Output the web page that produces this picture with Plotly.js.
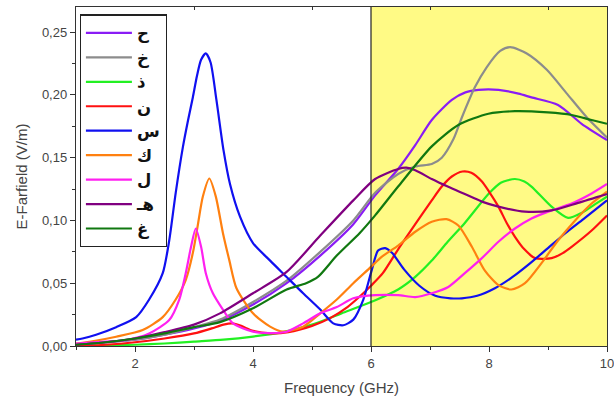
<!DOCTYPE html>
<html>
<head>
<meta charset="utf-8">
<script src="https://cdn.plot.ly/plotly-3.0.1.min.js"></script>
<style>html,body{margin:0;padding:0;background:#fff;}#chart{width:614px;height:410px;}</style>
</head>
<body>
<div id="chart"></div>
<script>
// Series labels (legend)
const names = ["ح", "خ", "ذ", "ن", "س", "ك", "ل", "هـ", "غ"];
const colors = ["#8A1CF5", "#8C8C8C", "#22F022", "#FF1010", "#1010F0", "#FF8010", "#FF20F0", "#800080", "#107810"];

// ح (violet)
const xViolet = [1, 1.5, 2, 2.5, 3, 3.44, 4.0, 4.57, 5.14, 5.7, 6.07, 6.46, 6.75, 7.03, 7.37, 7.6, 7.82, 8.16, 8.5, 8.72, 9.17, 9.57, 10];
const yViolet = [0.001, 0.003, 0.005, 0.009, 0.014, 0.020, 0.033, 0.050, 0.072, 0.097, 0.120, 0.141, 0.160, 0.180, 0.196, 0.202, 0.204, 0.204, 0.201, 0.198, 0.192, 0.177, 0.164];

// خ (gray)
const xGray = [1, 1.5, 2, 2.5, 3, 3.44, 4.0, 4.57, 5.14, 5.7, 6.07, 6.46, 6.75, 7.03, 7.2, 7.4, 7.54, 7.76, 7.96, 8.19, 8.36, 8.64, 8.98, 9.32, 9.66, 10];
const yGray = [0.001, 0.003, 0.005, 0.009, 0.015, 0.021, 0.035, 0.052, 0.075, 0.100, 0.122, 0.137, 0.143, 0.145, 0.150, 0.165, 0.182, 0.206, 0.222, 0.235, 0.238, 0.233, 0.220, 0.201, 0.182, 0.166];

// ذ (green)
const xGreen = [1, 1.5, 2, 2.5, 3, 3.5, 4.0, 4.5, 5.0, 5.5, 6.0, 6.46, 6.75, 7.03, 7.3, 7.59, 7.99, 8.2, 8.44, 8.6, 8.72, 9.06, 9.34, 9.57, 9.8, 10];
const yGreen = [0.000, 0.0005, 0.001, 0.002, 0.0035, 0.005, 0.0075, 0.011, 0.017, 0.026, 0.035, 0.045, 0.055, 0.068, 0.083, 0.098, 0.121, 0.130, 0.133, 0.131, 0.127, 0.111, 0.102, 0.106, 0.113, 0.119];

// ن (red)
const xRed = [1, 1.5, 2, 2.5, 3, 3.3, 3.5, 3.65, 3.8, 4.0, 4.3, 4.6, 5.0, 5.3, 5.6, 5.8, 6.0, 6.2, 6.46, 6.75, 7.03, 7.2, 7.37, 7.55, 7.7, 7.88, 8.0, 8.16, 8.3, 8.44, 8.6, 8.78, 9.06, 9.25, 9.4, 9.74, 10];
const yRed = [0.000, 0.001, 0.003, 0.006, 0.010, 0.014, 0.017, 0.018, 0.016, 0.012, 0.010, 0.011, 0.016, 0.022, 0.031, 0.039, 0.048, 0.058, 0.077, 0.097, 0.116, 0.127, 0.135, 0.139, 0.138, 0.131, 0.123, 0.111, 0.098, 0.087, 0.077, 0.070, 0.070, 0.074, 0.079, 0.092, 0.104];

// س (blue)
const xBlue = [1, 1.11, 1.34, 1.68, 2.02, 2.24, 2.47, 2.58, 2.69, 2.81, 2.9, 2.98, 3.05, 3.12, 3.2, 3.28, 3.38, 3.5, 3.61, 3.78, 4.0, 4.29, 4.57, 4.85, 5.14, 5.36, 5.53, 5.7, 5.87, 6.01, 6.12, 6.24, 6.36, 6.56, 6.82, 7.09, 7.35, 7.54, 7.8, 8.1, 8.4, 8.7, 9.0, 9.3, 9.6, 10];
const yBlue = [0.005, 0.006, 0.009, 0.015, 0.023, 0.037, 0.058, 0.084, 0.122, 0.158, 0.180, 0.198, 0.215, 0.228, 0.233, 0.226, 0.196, 0.156, 0.129, 0.103, 0.082, 0.068, 0.055, 0.042, 0.029, 0.018, 0.0165, 0.021, 0.037, 0.060, 0.076, 0.078, 0.074, 0.061, 0.048, 0.040, 0.038, 0.038, 0.040, 0.046, 0.055, 0.066, 0.078, 0.090, 0.101, 0.116];

// ك (orange)
const xOrange = [1, 1.23, 1.68, 2.13, 2.47, 2.69, 2.86, 2.98, 3.06, 3.15, 3.26, 3.37, 3.49, 3.6, 3.72, 4.0, 4.29, 4.51, 4.85, 5.14, 5.42, 5.7, 6.0, 6.18, 6.46, 6.75, 7.03, 7.28, 7.48, 7.71, 7.93, 8.16, 8.38, 8.61, 8.89, 9.17, 9.46, 9.74, 10];
const yOrange = [0.002, 0.0034, 0.0074, 0.0127, 0.023, 0.037, 0.0525, 0.074, 0.095, 0.119, 0.1334, 0.119, 0.090, 0.068, 0.046, 0.026, 0.0154, 0.0114, 0.0154, 0.026, 0.037, 0.050, 0.063, 0.071, 0.080, 0.091, 0.099, 0.101, 0.096, 0.079, 0.060, 0.0485, 0.045, 0.050, 0.066, 0.084, 0.100, 0.1135, 0.123];

// ل (magenta)
const xMagenta = [1, 1.28, 1.85, 2.24, 2.58, 2.75, 2.86, 2.95, 3.03, 3.12, 3.2, 3.32, 3.49, 3.66, 4.0, 4.29, 4.57, 4.85, 5.14, 5.42, 5.7, 6.07, 6.46, 6.75, 7.03, 7.31, 7.59, 7.88, 8.16, 8.44, 8.72, 9.06, 9.4, 9.74, 10];
const yMagenta = [0.002, 0.003, 0.0048, 0.010, 0.0207, 0.037, 0.058, 0.079, 0.0936, 0.079, 0.058, 0.042, 0.029, 0.018, 0.0114, 0.0103, 0.0114, 0.018, 0.026, 0.031, 0.038, 0.0405, 0.0405, 0.039, 0.042, 0.047, 0.058, 0.070, 0.083, 0.0936, 0.1016, 0.108, 0.1135, 0.1215, 0.129];

// هـ (purple)
const xPurple = [1, 1.5, 2, 2.5, 3, 3.44, 4.0, 4.57, 5.14, 5.7, 6.07, 6.46, 6.6, 6.75, 7.03, 7.3, 7.59, 7.88, 8.16, 8.61, 9.06, 9.51, 10];
const yPurple = [0.001, 0.003, 0.006, 0.011, 0.017, 0.026, 0.042, 0.059, 0.088, 0.116, 0.133, 0.141, 0.142, 0.140, 0.133, 0.127, 0.121, 0.115, 0.111, 0.107, 0.108, 0.114, 0.121];

// غ (dark green)
const xDkGreen = [1, 1.5, 2, 2.5, 3, 3.44, 4.0, 4.57, 4.9, 5.1, 5.42, 5.81, 6.07, 6.46, 7.03, 7.48, 7.99, 8.44, 9.0, 9.4, 9.74, 10];
const yDkGreen = [0.001, 0.003, 0.006, 0.010, 0.015, 0.019, 0.030, 0.045, 0.050, 0.055, 0.072, 0.090, 0.104, 0.127, 0.159, 0.176, 0.185, 0.187, 0.186, 0.184, 0.180, 0.177];

const xs = [xViolet, xGray, xGreen, xRed, xBlue, xOrange, xMagenta, xPurple, xDkGreen];
const ys = [yViolet, yGray, yGreen, yRed, yBlue, yOrange, yMagenta, yPurple, yDkGreen];

// Highlight band
const bandStart = 6, bandEnd = 10;

const traces = names.map((n, i) => ({
  x: xs[i], y: ys[i], name: n, type: 'scatter', mode: 'lines',
  line: {color: colors[i], width: 2.2, shape: 'spline', smoothing: 0.7}
}));
// helper trace so the top (mirror) axis with inward ticks is drawn
traces.push({x: [bandStart], y: [null], xaxis: 'x2', yaxis: 'y', type: 'scatter', mode: 'lines',
  showlegend: false, hoverinfo: 'skip'});

const layout = {
  width: 614, height: 410,
  margin: {l: 76, r: 7, t: 7, b: 64},
  paper_bgcolor: '#fff', plot_bgcolor: '#fff',
  separators: ',.',
  font: {family: 'Liberation Sans, Arial, sans-serif', color: '#444', size: 13},
  showlegend: true,
  legend: {
    x: 0.007, y: 0.978, xanchor: 'left', yanchor: 'top',
    bgcolor: '#fff', bordercolor: '#222', borderwidth: 1.2,
    font: {family: 'DejaVu Sans', size: 16.5, color: '#111', weight: 'bold'},
    itemwidth: 46, tracegroupgap: 0
  },
  xaxis: {
    range: [1, 10], dtick: 2, tick0: 0, ticks: 'outside', ticklen: 5, tickcolor: '#333',
    showline: true, linecolor: '#333', linewidth: 1.2, mirror: true,
    showgrid: false, zeroline: false, ticklabeloverflow: 'allow',
    minor: {dtick: 1, tick0: 0, ticks: 'outside', ticklen: 3, tickcolor: '#333'},
    tickfont: {size: 13, color: '#444'},
    title: {text: 'Frequency (GHz)', font: {size: 15, color: '#444'}, standoff: 12}
  },
  xaxis2: {
    overlaying: 'x', anchor: 'y', side: 'top',
    range: [1, 10], tick0: 1, dtick: 2, ticks: 'inside', ticklen: 3, tickcolor: '#333',
    showticklabels: false, showgrid: false, zeroline: false, showline: false
  },
  yaxis: {
    range: [0, 0.27], dtick: 0.05, tick0: 0, tickformat: '.2f', ticks: 'outside', ticklen: 5, tickcolor: '#333',
    showline: true, linecolor: '#333', linewidth: 1.2, mirror: true,
    showgrid: false, zeroline: false,
    minor: {dtick: 0.025, tick0: 0, ticks: 'outside', ticklen: 3, tickcolor: '#333'},
    tickfont: {size: 13, color: '#444'},
    title: {text: 'E-Farfield (V/m)', font: {size: 15, color: '#444'}, standoff: 10}
  },
  shapes: [
    {type: 'rect', xref: 'x', yref: 'paper', x0: bandStart, x1: bandEnd, y0: 0, y1: 1,
     fillcolor: '#FFFA85', line: {width: 0}, layer: 'below'},
    {type: 'line', xref: 'x', yref: 'paper', x0: bandStart, x1: bandStart, y0: 0, y1: 1,
     line: {color: '#222', width: 1.2}, layer: 'above'}
  ]
};

Plotly.newPlot('chart', traces, layout, {displayModeBar: false, staticPlot: true});
</script>
</body>
</html>
